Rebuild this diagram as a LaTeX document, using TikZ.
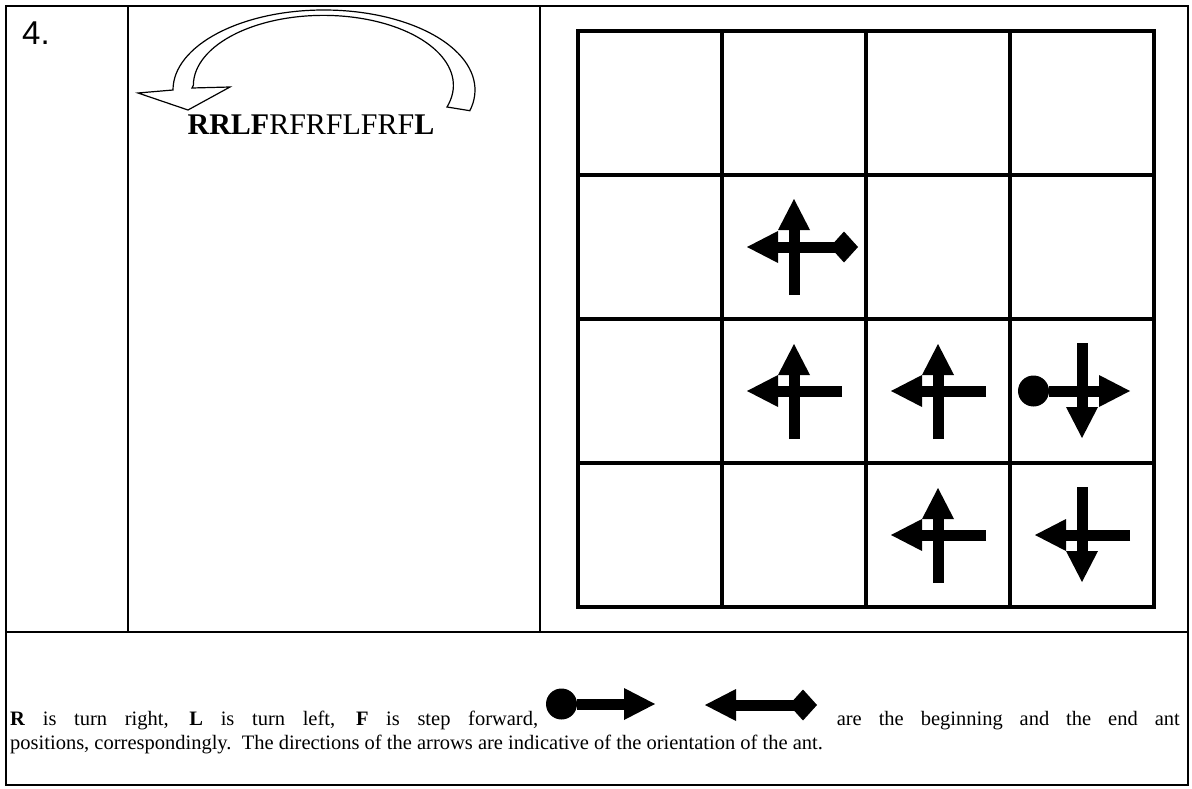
\documentclass[tikz,border=0pt]{standalone}
\usepackage{fontspec}
\setmainfont{Liberation Serif}
\newfontfamily\numfont{Liberation Sans}
\usetikzlibrary{arrows.meta}

\begin{document}
\begin{tikzpicture}[x=1pt, y=-1pt,
    rule/.style={line width=2pt},
    gridline/.style={line width=4.5pt, line cap=rect},
    antmove/.style={line width=11pt, -{Triangle[length=31pt,width=32pt,line width=0pt]}},
    antstart/.style={line width=11pt, {Circle[length=31pt,line width=0pt]}-{Triangle[length=31pt,width=32pt,line width=0pt]}},
    antend/.style={line width=11pt, {Diamond[length=28pt,width=31pt,line width=0pt]}-{Triangle[length=31pt,width=32pt,line width=0pt]}},
    turnarrow/.style={draw, line width=1.2pt, fill=white},
    keytext/.style={anchor=base west, inner sep=0pt, font=\fontsize{20.5}{24}\selectfont}
]
\useasboundingbox (0,0) rectangle (1192,789);

% table frame
\draw[rule] (6,6) rectangle (1188,785);
\draw[rule] (6,632) -- (1188,632);
\draw[rule] (128,6) -- (128,632);
\draw[rule] (540,6) -- (540,632);

\node[anchor=base west, inner sep=0pt, font=\numfont\fontsize{33}{33}\selectfont] (num) at (22,45) {4.};

% the turn arrow over the sequence
\draw[turnarrow] (173,90) arc[start angle=180, end angle=-15, x radius=151pt, y radius=80pt]
  -- (447,107) arc[start angle=-18, end angle=180, x radius=130pt, y radius=70pt]
  -- (192,88) -- (230,87) -- (188,110) -- (138,93) -- cycle;
\node[anchor=base, inner sep=0pt, font=\fontsize{30}{30}\selectfont] (seq) at (311,135) {\textbf{RRLF}RFRFLFRF\textbf{L}};

% 4x4 field
\foreach \i in {0,...,4} {
  \draw[gridline] (578+144*\i,31) -- (578+144*\i,607);
  \draw[gridline] (578,31+144*\i) -- (1154,31+144*\i);
}

% ant steps
\foreach \cx/\cy in {794/391, 938/391, 938/535} {
  \draw[antmove] (\cx+48,\cy) -- (\cx-47,\cy);
  \draw[antmove] (\cx,\cy+48) -- (\cx,\cy-47);
}
\draw[antend] (858,247) -- (747,247);
\draw[antmove] (794,295) -- (794,199);
\draw[antstart] (1018,391) -- (1130,391);
\draw[antmove] (1082,343) -- (1082,438);
\draw[antmove] (1130,535) -- (1035,535);
\draw[antmove] (1082,487) -- (1082,582);

% key
\node[keytext] (keyA) at (10,725) {\makebox[528pt][s]{\textbf{R} is turn right, \textbf{L} is turn left, \textbf{F} is step forward,}};
\draw[antstart] (546,704) -- (655,704);
\draw[antend] (817,705) -- (705,705);
\node[keytext, anchor=base east] (keyB) at (1180,725) {\makebox[343pt][s]{are the beginning and the end ant}};
\node[keytext] (keyC) at (10,749) {positions, correspondingly.\ \ The directions of the arrows are indicative of the orientation of the ant.};
\end{tikzpicture}
\end{document}
